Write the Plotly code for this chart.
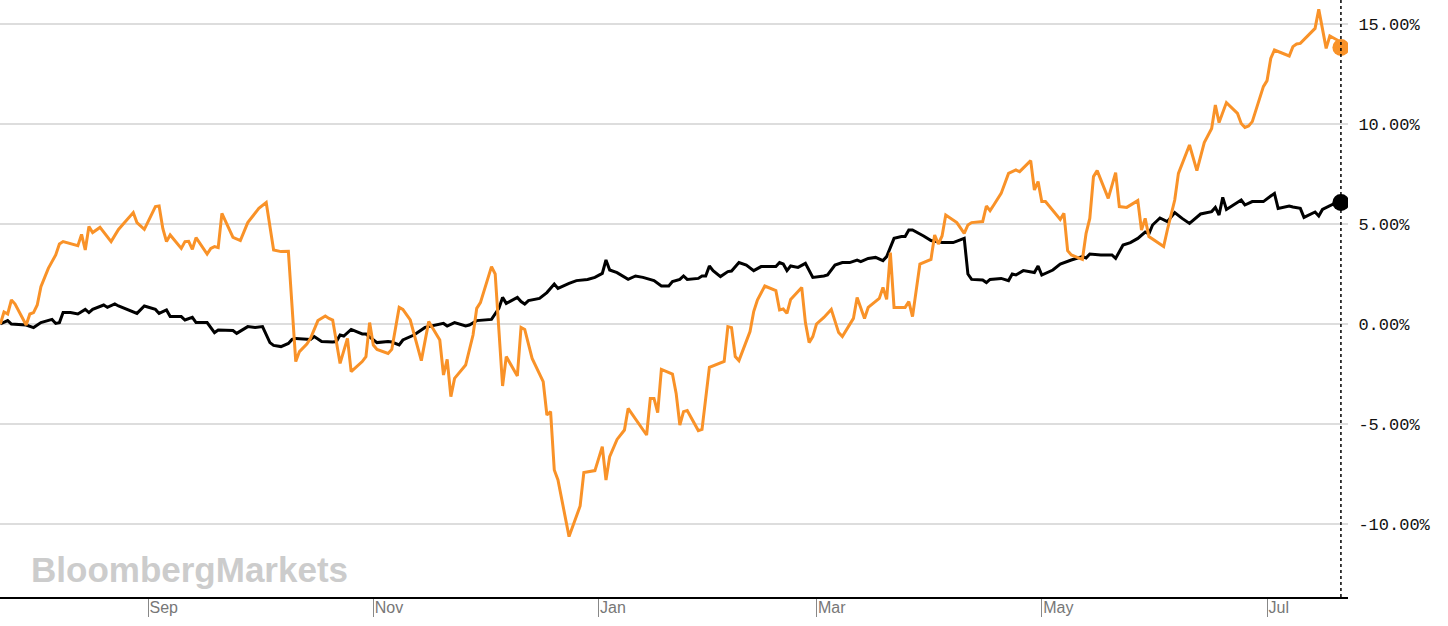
import plotly.graph_objects as go

# ---------------- data (percent change) ----------------
orange_dates = [
    "2016-07-23", "2016-07-24", "2016-07-25", "2016-07-26", "2016-07-27", "2016-07-30", "2016-07-31",
    "2016-08-01", "2016-08-02", "2016-08-03", "2016-08-05", "2016-08-07", "2016-08-08", "2016-08-09",
    "2016-08-13", "2016-08-14", "2016-08-15", "2016-08-16", "2016-08-17", "2016-08-19", "2016-08-22",
    "2016-08-24", "2016-08-28", "2016-08-29", "2016-08-31", "2016-09-03", "2016-09-04", "2016-09-05",
    "2016-09-06", "2016-09-07", "2016-09-10", "2016-09-11", "2016-09-12", "2016-09-13", "2016-09-14",
    "2016-09-17", "2016-09-18", "2016-09-19", "2016-09-20", "2016-09-21", "2016-09-24", "2016-09-26",
    "2016-09-28", "2016-10-01", "2016-10-03", "2016-10-05", "2016-10-07", "2016-10-09", "2016-10-11",
    "2016-10-12", "2016-10-14", "2016-10-15", "2016-10-17", "2016-10-19", "2016-10-20", "2016-10-21",
    "2016-10-23", "2016-10-25", "2016-10-26", "2016-10-29", "2016-10-30", "2016-10-31", "2016-11-01",
    "2016-11-02", "2016-11-05", "2016-11-06", "2016-11-08", "2016-11-09", "2016-11-11", "2016-11-14",
    "2016-11-16", "2016-11-19", "2016-11-20", "2016-11-21", "2016-11-22", "2016-11-23", "2016-11-26",
    "2016-11-28", "2016-11-29", "2016-11-30", "2016-12-03", "2016-12-04", "2016-12-06", "2016-12-07",
    "2016-12-10", "2016-12-11", "2016-12-12", "2016-12-14", "2016-12-17", "2016-12-18", "2016-12-19",
    "2016-12-20", "2016-12-21", "2016-12-24", "2016-12-27", "2016-12-28", "2016-12-31", "2017-01-02",
    "2017-01-03", "2017-01-04", "2017-01-06", "2017-01-08", "2017-01-09", "2017-01-14", "2017-01-15",
    "2017-01-16", "2017-01-17", "2017-01-18", "2017-01-21", "2017-01-22", "2017-01-23", "2017-01-24",
    "2017-01-25", "2017-01-28", "2017-01-29", "2017-01-30", "2017-01-31", "2017-02-04", "2017-02-05",
    "2017-02-06", "2017-02-07", "2017-02-08", "2017-02-11", "2017-02-12", "2017-02-13", "2017-02-15",
    "2017-02-18", "2017-02-19", "2017-02-20", "2017-02-21", "2017-02-22", "2017-02-25", "2017-02-26",
    "2017-02-27", "2017-02-28", "2017-03-01", "2017-03-03", "2017-03-05", "2017-03-07", "2017-03-08",
    "2017-03-11", "2017-03-12", "2017-03-14", "2017-03-15", "2017-03-18", "2017-03-19", "2017-03-20",
    "2017-03-21", "2017-03-22", "2017-03-25", "2017-03-26", "2017-03-27", "2017-03-29", "2017-04-01",
    "2017-04-02", "2017-04-03", "2017-04-04", "2017-04-05", "2017-04-08", "2017-04-10", "2017-04-11",
    "2017-04-12", "2017-04-15", "2017-04-16", "2017-04-17", "2017-04-18", "2017-04-20", "2017-04-22",
    "2017-04-24", "2017-04-25", "2017-04-28", "2017-04-29", "2017-04-30", "2017-05-01", "2017-05-02",
    "2017-05-06", "2017-05-07", "2017-05-08", "2017-05-09", "2017-05-12", "2017-05-13", "2017-05-14",
    "2017-05-15", "2017-05-16", "2017-05-19", "2017-05-21", "2017-05-22", "2017-05-24", "2017-05-27",
    "2017-05-28", "2017-05-29", "2017-05-30", "2017-06-03", "2017-06-04", "2017-06-06", "2017-06-07",
    "2017-06-10", "2017-06-12", "2017-06-14", "2017-06-16", "2017-06-17", "2017-06-18", "2017-06-20",
    "2017-06-23", "2017-06-24", "2017-06-25", "2017-06-26", "2017-06-27", "2017-06-30", "2017-07-01",
    "2017-07-02", "2017-07-03", "2017-07-07", "2017-07-08", "2017-07-09", "2017-07-10", "2017-07-14",
    "2017-07-15", "2017-07-17", "2017-07-18", "2017-07-20", "2017-07-21",
]
orange_values = [
    0.0, 0.6, 0.5, 1.2, 1.0, -0.05, 0.5,
    0.57, 0.95, 1.87, 2.78, 3.45, 4.0, 4.12,
    3.92, 4.48, 3.7, 4.87, 4.57, 4.83, 4.12,
    4.73, 5.57, 5.07, 4.73, 5.87, 5.9, 4.78,
    4.12, 4.45, 3.78, 4.12, 4.13, 3.73, 4.32,
    3.5, 3.78, 3.87, 3.82, 5.53, 4.33, 4.17,
    5.07, 5.78, 6.07, 3.7, 3.62, 3.63, -1.88,
    -1.38, -1.0, -0.72, 0.17, 0.4, 0.28, 0.2,
    -1.97, -0.72, -2.38, -1.88, -1.63, 0.07, -1.05,
    -1.27, -1.47, -1.27, 0.83, 0.73, 0.2, -1.83,
    0.12, -0.8, -2.55, -1.77, -3.63, -2.72, -2.05,
    -0.55, 0.78, 1.07, 2.87, 2.5, -3.1, -1.63,
    -2.6, -0.17, -0.27, -1.72, -2.88, -4.55, -4.38,
    -7.3, -7.8, -10.63, -9.1, -7.43, -7.33, -6.13,
    -7.8, -6.63, -5.77, -5.3, -4.22, -5.55, -3.72,
    -3.72, -4.43, -2.27, -2.5, -3.47, -5.05, -4.38,
    -4.33, -5.33, -5.27, -3.77, -2.17, -1.87, -0.13,
    -0.18, -1.63, -1.83, -0.38, 0.62, 1.2, 1.9,
    1.67, 0.7, 0.75, 0.53, 1.23, 1.83, 0.07,
    -0.93, -0.63, 0.0, 0.33, 0.73, -0.43, -0.63,
    0.28, 1.33, 0.28, 0.83, 1.28, 1.83, 1.23,
    3.57, 0.83, 0.83, 1.12, 0.37, 3.0, 3.23,
    4.45, 4.0, 4.4, 5.45, 5.07, 4.53, 4.95,
    5.07, 5.12, 5.9, 5.67, 5.95, 6.53, 7.53,
    7.7, 7.62, 8.17, 6.7, 7.12, 6.12, 6.12,
    5.23, 5.53, 3.67, 3.45, 3.23, 4.53, 5.28,
    7.37, 7.67, 6.28, 7.57, 5.87, 5.83, 6.17,
    4.7, 5.28, 4.37, 3.87, 4.7, 6.2, 7.53,
    8.95, 7.67, 9.07, 9.78, 10.95, 10.07, 11.07,
    10.53, 10.03, 9.83, 9.9, 10.12, 11.87, 12.17,
    13.28, 13.7, 13.4, 13.87, 14.0, 14.03, 14.78,
    15.73, 13.78, 14.4, 14.2, 13.83,
]

black_dates = [
    "2016-07-23", "2016-07-25", "2016-07-26", "2016-07-30", "2016-08-01", "2016-08-03", "2016-08-06",
    "2016-08-07", "2016-08-08", "2016-08-09", "2016-08-11", "2016-08-13", "2016-08-15", "2016-08-16",
    "2016-08-17", "2016-08-20", "2016-08-21", "2016-08-23", "2016-08-24", "2016-08-29", "2016-08-31",
    "2016-09-03", "2016-09-04", "2016-09-06", "2016-09-07", "2016-09-10", "2016-09-11", "2016-09-13",
    "2016-09-14", "2016-09-17", "2016-09-19", "2016-09-20", "2016-09-24", "2016-09-25", "2016-09-28",
    "2016-09-30", "2016-10-02", "2016-10-04", "2016-10-05", "2016-10-07", "2016-10-09", "2016-10-10",
    "2016-10-11", "2016-10-15", "2016-10-16", "2016-10-18", "2016-10-21", "2016-10-22", "2016-10-23",
    "2016-10-24", "2016-10-26", "2016-10-29", "2016-10-30", "2016-11-02", "2016-11-05", "2016-11-06",
    "2016-11-08", "2016-11-09", "2016-11-12", "2016-11-13", "2016-11-15", "2016-11-20", "2016-11-21",
    "2016-11-23", "2016-11-26", "2016-11-27", "2016-11-29", "2016-12-03", "2016-12-05", "2016-12-06",
    "2016-12-07", "2016-12-10", "2016-12-11", "2016-12-12", "2016-12-13", "2016-12-16", "2016-12-18",
    "2016-12-20", "2016-12-21", "2016-12-24", "2016-12-26", "2016-12-29", "2016-12-31", "2017-01-02",
    "2017-01-03", "2017-01-04", "2017-01-06", "2017-01-09", "2017-01-11", "2017-01-13", "2017-01-16",
    "2017-01-18", "2017-01-20", "2017-01-21", "2017-01-23", "2017-01-24", "2017-01-25", "2017-01-28",
    "2017-01-29", "2017-01-30", "2017-01-31", "2017-02-01", "2017-02-03", "2017-02-05", "2017-02-06",
    "2017-02-08", "2017-02-10", "2017-02-12", "2017-02-14", "2017-02-18", "2017-02-19", "2017-02-20",
    "2017-02-21", "2017-02-22", "2017-02-24", "2017-02-26", "2017-02-27", "2017-02-28", "2017-03-03",
    "2017-03-04", "2017-03-06", "2017-03-08", "2017-03-10", "2017-03-12", "2017-03-13", "2017-03-15",
    "2017-03-17", "2017-03-19", "2017-03-20", "2017-03-22", "2017-03-24", "2017-03-25", "2017-03-26",
    "2017-03-27", "2017-03-30", "2017-04-01", "2017-04-04", "2017-04-07", "2017-04-10", "2017-04-11",
    "2017-04-12", "2017-04-15", "2017-04-16", "2017-04-17", "2017-04-20", "2017-04-22", "2017-04-23",
    "2017-04-24", "2017-04-26", "2017-04-29", "2017-04-30", "2017-05-01", "2017-05-04", "2017-05-06",
    "2017-05-09", "2017-05-12", "2017-05-13", "2017-05-14", "2017-05-17", "2017-05-20", "2017-05-21",
    "2017-05-23", "2017-05-25", "2017-05-27", "2017-05-29", "2017-05-30", "2017-05-31", "2017-06-02",
    "2017-06-04", "2017-06-06", "2017-06-08", "2017-06-10", "2017-06-13", "2017-06-16", "2017-06-17",
    "2017-06-18", "2017-06-19", "2017-06-20", "2017-06-24", "2017-06-25", "2017-06-27", "2017-06-30",
    "2017-07-02", "2017-07-03", "2017-07-04", "2017-07-07", "2017-07-08", "2017-07-10", "2017-07-11",
    "2017-07-14", "2017-07-15", "2017-07-16", "2017-07-19", "2017-07-21",
]
black_values = [
    0.0, 0.17, 0.0, -0.05, -0.18, 0.07, 0.23,
    0.03, 0.07, 0.57, 0.57, 0.5, 0.73, 0.57,
    0.73, 0.95, 0.83, 1.0, 0.9, 0.53, 0.9,
    0.73, 0.53, 0.7, 0.37, 0.37, 0.2, 0.33,
    0.07, 0.07, -0.43, -0.3, -0.33, -0.47, -0.13,
    -0.17, -0.13, -0.93, -1.07, -1.13, -0.97, -0.77,
    -0.72, -0.77, -0.63, -0.88, -0.9, -0.88, -0.55,
    -0.6, -0.27, -0.5, -0.5, -0.93, -0.88, -0.9,
    -1.05, -0.8, -0.55, -0.43, -0.17, 0.03, -0.1,
    0.07, -0.1, -0.05, 0.17, 0.23, 0.78, 1.33,
    1.03, 1.33, 1.12, 1.0, 1.17, 1.28, 1.57,
    2.0, 1.78, 2.03, 2.17, 2.23, 2.33, 2.53,
    3.2, 2.7, 2.57, 2.23, 2.4, 2.33, 2.17,
    1.9, 1.9, 2.12, 2.23, 2.4, 2.23, 2.28,
    2.4, 2.4, 2.9, 2.67, 2.37, 2.62, 2.65,
    3.07, 2.95, 2.67, 2.87, 2.87, 3.07, 3.0,
    2.67, 2.9, 2.83, 3.03, 2.7, 2.33, 2.4,
    2.45, 2.95, 3.07, 3.07, 3.2, 3.12, 3.28,
    3.33, 3.17, 3.37, 4.28, 4.37, 4.37, 4.7,
    4.7, 4.4, 4.17, 4.07, 4.07, 4.28, 2.5,
    2.23, 2.2, 2.07, 2.23, 2.28, 2.17, 2.5,
    2.45, 2.67, 2.57, 2.9, 2.45, 2.7, 3.0,
    3.2, 3.37, 3.3, 3.5, 3.45, 3.45, 3.28,
    3.95, 4.07, 4.28, 4.6, 4.5, 4.95, 5.3,
    5.12, 5.57, 5.28, 5.03, 5.5, 5.62, 5.83,
    5.45, 6.33, 5.73, 6.2, 5.95, 6.12, 6.12,
    6.4, 6.53, 5.78, 5.9, 5.85, 5.78, 5.33,
    5.6, 5.4, 5.73, 6.0, 6.07,
]

month_ticks = ["2016-09-01", "2016-11-01", "2017-01-01", "2017-03-01", "2017-05-01", "2017-07-01"]
month_labels = ["Sep", "Nov", "Jan", "Mar", "May", "Jul"]
pct_ticks = [-10, -5, 0, 5, 10, 15]
pct_labels = ["-10.00%", "-5.00%", "0.00%", "5.00%", "10.00%", "15.00%"]

ORANGE = "#f99228"
BLACK = "#000000"

fig = go.Figure()
fig.add_trace(go.Scatter(x=black_dates, y=black_values, mode="lines",
                         line=dict(color=BLACK, width=3), name="Index", showlegend=False))
fig.add_trace(go.Scatter(x=orange_dates, y=orange_values, mode="lines",
                         line=dict(color=ORANGE, width=3), name="Stock", showlegend=False))
fig.add_trace(go.Scatter(x=[orange_dates[-1]], y=[orange_values[-1]], mode="markers",
                         marker=dict(color=ORANGE, size=17), showlegend=False))
fig.add_trace(go.Scatter(x=[black_dates[-1]], y=[black_values[-1]], mode="markers",
                         marker=dict(color=BLACK, size=17), showlegend=False))

fig.add_shape(type="line", xref="x", yref="paper", x0=orange_dates[-1], x1=orange_dates[-1],
              y0=0, y1=1, line=dict(color="#000", width=1.5, dash="dot"), layer="above")

fig.add_annotation(text="BloombergMarkets", xref="paper", yref="paper", x=0.0215, y=0.046,
                   xanchor="left", yanchor="middle", showarrow=False,
                   font=dict(family="Liberation Sans, Arial, sans-serif", size=35,
                             color="#cccccc", weight="bold"))

fig.update_xaxes(type="date", range=["2016-07-22 22:00", "2017-07-22 22:00"],
                 tickvals=month_ticks, ticktext=month_labels, automargin=False,
                 ticks="outside", ticklen=18, tickwidth=1, tickcolor="#888",
                 ticklabelposition="outside right", ticklabelstandoff=-5,
                 tickfont=dict(family="Liberation Sans Narrow, Arial Narrow, Liberation Sans",
                               size=16, color="#777"),
                 showgrid=False, zeroline=False, showline=True, linecolor="#000", linewidth=2)
fig.update_yaxes(side="right", range=[-13.65, 16.2], tickvals=pct_ticks, ticktext=pct_labels,
                 automargin=False,
                 showgrid=True, gridcolor="#dddddd", gridwidth=2, zeroline=False, showline=False,
                 ticks="outside", ticklen=6, tickcolor="rgba(0,0,0,0)",
                 tickfont=dict(family="Liberation Mono, DejaVu Sans Mono, monospace",
                               size=17, color="#111"))

fig.update_layout(width=1448, height=626, margin=dict(l=0, r=100, t=0, b=29, pad=0),
                  plot_bgcolor="white", paper_bgcolor="white", hovermode=False)

fig.write_html("out.html", config={"displayModeBar": False},
               post_script="document.body.style.margin='0px';")
